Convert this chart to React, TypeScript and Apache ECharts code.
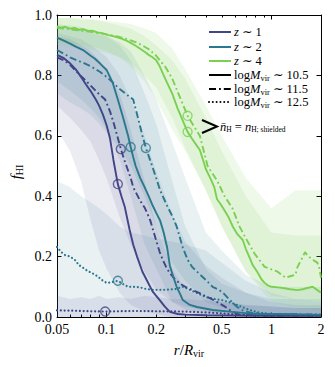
import React, { useEffect, useRef } from "react";
import * as echarts from "echarts";

const SERIF = "'Liberation Serif', 'DejaVu Serif', serif";
const COLOR_Z1 = "#414487";
const COLOR_Z2 = "#2a788e";
const COLOR_Z4 = "#7ad151";

// tick / label values
const X_LABELS = [0.05, 0.1, 0.2, 0.5, 1, 2];
const X_MAJOR_TICKS = [0.1, 1];
const X_MINOR_TICKS = [0.05, 0.06, 0.07, 0.08, 0.09, 0.2, 0.3, 0.4, 0.5, 0.6, 0.7, 0.8, 0.9, 2];

// ---- median profiles f_HI(r/Rvir) ----
const z1Solid: number[][] = [
  [0.05, 0.868], [0.055, 0.857], [0.06, 0.84], [0.065, 0.82], [0.07, 0.795], [0.075, 0.77], [0.08, 0.748],
  [0.086, 0.72], [0.09, 0.7], [0.095, 0.67], [0.1, 0.635], [0.105, 0.59], [0.11, 0.52], [0.117, 0.44],
  [0.123, 0.4], [0.129, 0.364], [0.138, 0.288], [0.145, 0.24], [0.153, 0.2], [0.165, 0.15], [0.176, 0.12],
  [0.19, 0.085], [0.21, 0.056], [0.225, 0.035], [0.242, 0.017], [0.27, 0.01], [0.3, 0.008], [0.4, 0.006],
  [0.6, 0.005], [1.0, 0.004], [2.0, 0.004],
];
const z1DashDot: number[][] = [
  [0.05, 0.86], [0.055, 0.85], [0.06, 0.835], [0.065, 0.815], [0.07, 0.797], [0.075, 0.782], [0.08, 0.766],
  [0.09, 0.738], [0.098, 0.72], [0.105, 0.68], [0.11, 0.645], [0.116, 0.6], [0.122, 0.556], [0.128, 0.52],
  [0.133, 0.495], [0.14, 0.46], [0.145, 0.43], [0.159, 0.387], [0.171, 0.36], [0.184, 0.32], [0.202, 0.245],
  [0.21, 0.215], [0.219, 0.19], [0.23, 0.165], [0.242, 0.145], [0.26, 0.125], [0.28, 0.11], [0.3, 0.1],
  [0.33, 0.09], [0.37, 0.078], [0.41, 0.066], [0.45, 0.055], [0.48, 0.046], [0.52, 0.035], [0.56, 0.023],
  [0.6, 0.014], [0.64, 0.008], [0.8, 0.005], [1.0, 0.004], [2.0, 0.004],
];
const z1Dotted: number[][] = [
  [0.05, 0.022], [0.06, 0.021], [0.07, 0.02], [0.08, 0.019], [0.098, 0.018], [0.12, 0.019], [0.15, 0.02],
  [0.2, 0.019], [0.3, 0.018], [0.4, 0.015], [0.5, 0.012], [0.6, 0.009], [0.75, 0.006], [1.0, 0.005],
  [1.5, 0.005], [2.0, 0.005],
];
const z2Solid: number[][] = [
  [0.05, 0.925], [0.055, 0.915], [0.06, 0.905], [0.065, 0.895], [0.072, 0.884], [0.08, 0.865], [0.085, 0.855],
  [0.091, 0.84], [0.1, 0.818], [0.109, 0.775], [0.117, 0.72], [0.126, 0.66], [0.135, 0.6], [0.14, 0.563],
  [0.145, 0.53], [0.15, 0.5], [0.16, 0.46], [0.17, 0.43], [0.18, 0.4], [0.19, 0.37], [0.2, 0.345],
  [0.211, 0.32], [0.222, 0.28], [0.233, 0.23], [0.242, 0.17], [0.255, 0.13], [0.266, 0.1], [0.28, 0.075],
  [0.29, 0.056], [0.32, 0.04], [0.354, 0.033], [0.44, 0.023], [0.58, 0.017], [0.7, 0.013], [0.85, 0.01],
  [1.0, 0.01], [1.3, 0.009], [1.6, 0.008], [2.0, 0.007],
];
const z2DashDot: number[][] = [
  [0.05, 0.884], [0.055, 0.872], [0.06, 0.86], [0.066, 0.85], [0.072, 0.842], [0.08, 0.83], [0.091, 0.812],
  [0.1, 0.795], [0.11, 0.775], [0.12, 0.755], [0.13, 0.74], [0.145, 0.72], [0.155, 0.66], [0.165, 0.6],
  [0.173, 0.56], [0.189, 0.5], [0.2, 0.46], [0.211, 0.42], [0.233, 0.368], [0.25, 0.335], [0.266, 0.3],
  [0.29, 0.23], [0.31, 0.19], [0.33, 0.166], [0.37, 0.14], [0.405, 0.12], [0.44, 0.1], [0.48, 0.09],
  [0.52, 0.075], [0.56, 0.056], [0.62, 0.033], [0.68, 0.02], [0.74, 0.015], [0.85, 0.011], [1.0, 0.01],
  [1.4, 0.009], [2.0, 0.008],
];
const z2Dotted: number[][] = [
  [0.05, 0.232], [0.053, 0.215], [0.056, 0.205], [0.06, 0.2], [0.064, 0.19], [0.068, 0.172], [0.072, 0.163],
  [0.077, 0.152], [0.082, 0.145], [0.088, 0.135], [0.094, 0.122], [0.1, 0.113], [0.107, 0.115], [0.117, 0.12],
  [0.125, 0.11], [0.135, 0.1], [0.145, 0.1], [0.16, 0.098], [0.175, 0.092], [0.19, 0.09], [0.21, 0.09],
  [0.23, 0.09], [0.26, 0.092], [0.29, 0.1], [0.32, 0.09], [0.35, 0.08], [0.4, 0.066], [0.45, 0.06],
  [0.5, 0.056], [0.58, 0.046], [0.65, 0.035], [0.74, 0.023], [0.85, 0.014], [1.0, 0.01], [1.3, 0.009],
  [1.6, 0.008], [2.0, 0.008],
];
const z4Solid: number[][] = [
  [0.05, 0.962], [0.053, 0.958], [0.056, 0.961], [0.06, 0.955], [0.064, 0.957], [0.068, 0.951], [0.072, 0.953],
  [0.077, 0.947], [0.082, 0.948], [0.088, 0.942], [0.094, 0.94], [0.1, 0.935], [0.107, 0.931], [0.115, 0.927],
  [0.123, 0.922], [0.132, 0.915], [0.141, 0.907], [0.15, 0.898], [0.16, 0.888], [0.17, 0.878], [0.18, 0.868],
  [0.19, 0.86], [0.2, 0.85], [0.21, 0.83], [0.22, 0.805], [0.233, 0.775], [0.25, 0.74], [0.27, 0.69],
  [0.29, 0.65], [0.31, 0.613], [0.33, 0.59], [0.35, 0.57], [0.368, 0.553], [0.385, 0.52], [0.4, 0.49],
  [0.43, 0.455], [0.45, 0.43], [0.468, 0.39], [0.49, 0.375], [0.51, 0.36], [0.55, 0.33], [0.585, 0.298],
  [0.62, 0.275], [0.67, 0.255], [0.7, 0.225], [0.74, 0.195], [0.77, 0.172], [0.82, 0.15], [0.87, 0.125],
  [0.91, 0.113], [0.95, 0.105], [1.0, 0.1], [1.1, 0.098], [1.2, 0.095], [1.3, 0.092], [1.44, 0.089],
  [1.55, 0.092], [1.65, 0.096], [1.78, 0.1], [1.9, 0.089], [2.0, 0.08],
];
const z4DashDot: number[][] = [
  [0.05, 0.958], [0.055, 0.955], [0.06, 0.953], [0.065, 0.95], [0.07, 0.948], [0.08, 0.944], [0.09, 0.94],
  [0.1, 0.936], [0.11, 0.932], [0.12, 0.927], [0.13, 0.922], [0.14, 0.916], [0.15, 0.91], [0.16, 0.903],
  [0.17, 0.895], [0.18, 0.887], [0.19, 0.876], [0.2, 0.865], [0.21, 0.85], [0.226, 0.83], [0.25, 0.79],
  [0.27, 0.745], [0.29, 0.705], [0.31, 0.666], [0.34, 0.63], [0.368, 0.6], [0.41, 0.5], [0.47, 0.45],
  [0.52, 0.4], [0.58, 0.36], [0.64, 0.3], [0.7, 0.26], [0.79, 0.21], [0.91, 0.166], [1.0, 0.158],
  [1.09, 0.15], [1.22, 0.13], [1.3, 0.135], [1.4, 0.14], [1.44, 0.166], [1.52, 0.19], [1.6, 0.215],
  [1.68, 0.2], [1.78, 0.19], [1.9, 0.18], [1.96, 0.16], [2.0, 0.13],
];

// circles: radius where mean density equals the self-shielding density
const z1Shielded: number[][] = [[0.117, 0.44], [0.122, 0.556], [0.098, 0.018]];
const z2Shielded: number[][] = [[0.14, 0.563], [0.173, 0.56], [0.117, 0.12]];
const z4Shielded: number[][] = [[0.31, 0.613], [0.31, 0.666]];

// ---- scatter bands (lower / upper percentiles) on a shared radius grid ----
const BAND_R = [0.05, 0.06, 0.07, 0.08, 0.09, 0.1, 0.12, 0.14, 0.17, 0.2, 0.25, 0.3, 0.4, 0.5, 0.7, 1.0, 1.4, 2.0];
const z1SolidLo = [0.62, 0.55, 0.45, 0.32, 0.22, 0.16, 0.08, 0.04, 0.02, 0.01, 0, 0, 0, 0, 0, 0, 0, 0];
const z1SolidHi = [0.93, 0.92, 0.9, 0.88, 0.85, 0.82, 0.74, 0.62, 0.45, 0.3, 0.16, 0.09, 0.06, 0.05, 0.04, 0.035, 0.03, 0.03];
const z1DashLo = [0.7, 0.66, 0.62, 0.58, 0.52, 0.46, 0.33, 0.24, 0.15, 0.09, 0.05, 0.035, 0.02, 0.01, 0, 0, 0, 0];
const z1DashHi = [0.94, 0.93, 0.92, 0.9, 0.88, 0.86, 0.8, 0.72, 0.6, 0.48, 0.34, 0.25, 0.17, 0.13, 0.08, 0.05, 0.04, 0.04];
const z1DotLo = [0, 0, 0, 0, 0, 0, 0, 0, 0, 0, 0, 0, 0, 0, 0, 0, 0, 0];
const z1DotHi = [0.07, 0.06, 0.065, 0.06, 0.07, 0.06, 0.065, 0.06, 0.07, 0.065, 0.06, 0.06, 0.055, 0.05, 0.04, 0.035, 0.03, 0.03];
const z2SolidLo = [0.78, 0.75, 0.72, 0.69, 0.66, 0.62, 0.52, 0.4, 0.24, 0.16, 0.05, 0.025, 0.01, 0.005, 0, 0, 0, 0];
const z2SolidHi = [0.97, 0.965, 0.96, 0.95, 0.94, 0.93, 0.9, 0.85, 0.74, 0.64, 0.45, 0.3, 0.16, 0.11, 0.08, 0.06, 0.06, 0.06];
const z2DashLo = [0.74, 0.71, 0.69, 0.67, 0.64, 0.61, 0.56, 0.5, 0.4, 0.3, 0.18, 0.12, 0.05, 0.03, 0.01, 0, 0, 0];
const z2DashHi = [0.96, 0.955, 0.95, 0.94, 0.935, 0.93, 0.91, 0.88, 0.8, 0.72, 0.58, 0.46, 0.28, 0.22, 0.14, 0.1, 0.1, 0.1];
const z2DotLo = [0, 0, 0, 0, 0, 0, 0, 0, 0, 0, 0, 0, 0, 0, 0, 0, 0, 0];
const z2DotHi = [0.45, 0.43, 0.4, 0.38, 0.36, 0.34, 0.3, 0.28, 0.27, 0.26, 0.25, 0.24, 0.22, 0.18, 0.12, 0.08, 0.06, 0.05];
const z4SolidLo = [0.91, 0.905, 0.9, 0.895, 0.89, 0.88, 0.86, 0.83, 0.78, 0.72, 0.62, 0.55, 0.42, 0.3, 0.15, 0.05, 0.03, 0.02];
const z4SolidHi = [0.99, 0.99, 0.985, 0.985, 0.98, 0.975, 0.965, 0.955, 0.93, 0.9, 0.85, 0.79, 0.66, 0.55, 0.4, 0.28, 0.27, 0.27];
const z4DashLo = [0.9, 0.895, 0.89, 0.885, 0.88, 0.875, 0.86, 0.84, 0.8, 0.76, 0.66, 0.56, 0.42, 0.3, 0.15, 0.07, 0.06, 0.05];
const z4DashHi = [0.99, 0.99, 0.99, 0.985, 0.985, 0.98, 0.975, 0.97, 0.955, 0.94, 0.89, 0.82, 0.7, 0.6, 0.46, 0.36, 0.42, 0.42];

const GRID = { left: 57, top: 15, width: 264, height: 302 };
const DASHDOT = [7, 3, 1.8, 3];
const DOTTED = [0.01, 3.8];

function fmtX(v: number) {
  return String(Number(Number(v).toPrecision(6)));
}

function band(lo: number[], hi: number[], color: string, opacity: number) {
  return {
    type: "custom",
    xAxisIndex: 0,
    yAxisIndex: 0,
    silent: true,
    clip: true,
    z: 1,
    data: [[BAND_R[0], lo[0]]],
    encode: { x: 0, y: 1 },
    renderItem: (_params: any, api: any) => {
      const top = BAND_R.map((r, i) => api.coord([r, hi[i]]));
      const bottom = BAND_R.map((r, i) => api.coord([r, lo[i]])).reverse();
      return {
        type: "polygon",
        shape: { points: top.concat(bottom) },
        style: { fill: color, opacity, stroke: null },
      };
    },
  };
}

function line(data: number[][], color: string, type: any, width = 1.9, cap = "butt") {
  return {
    type: "line",
    xAxisIndex: 0,
    yAxisIndex: 0,
    data,
    symbol: "none",
    showSymbol: false,
    clip: true,
    z: 3,
    lineStyle: { color, width, type, cap },
    silent: true,
  };
}

function circles(data: number[][], color: string) {
  return {
    type: "scatter",
    xAxisIndex: 0,
    yAxisIndex: 0,
    data,
    symbol: "circle",
    symbolSize: 9,
    z: 4,
    itemStyle: { color: "rgba(0,0,0,0)", borderColor: color, borderWidth: 1.4 },
    silent: true,
  };
}

const SUB = { fontFamily: SERIF, fontSize: 8.5, padding: [5, 0, 0, 0], fill: "#000" };
const rich = {
  i: { fontFamily: SERIF, fontStyle: "italic", fontSize: 12.5, fill: "#000" },
  n: { fontFamily: SERIF, fontSize: 12.5, fill: "#000" },
  s: SUB,
};
const richBig = {
  i: { fontFamily: SERIF, fontStyle: "italic", fontSize: 15, fill: "#000" },
  n: { fontFamily: SERIF, fontSize: 15, fill: "#000" },
  s: { fontFamily: SERIF, fontSize: 10, padding: [6, 0, 0, 0], fill: "#000" },
};

function legendRow(y: number, color: string, dash: any, text: string, cap = "butt") {
  return [
    {
      type: "line",
      shape: { x1: 209, y1: y, x2: 231, y2: y },
      style: { stroke: color, lineWidth: 2, lineDash: dash, lineCap: cap },
      z: 10,
    },
    {
      type: "text",
      x: 234,
      y,
      z: 10,
      style: { text, rich, fontFamily: SERIF, fontSize: 12.5, fill: "#000", verticalAlign: "middle", align: "left" },
    },
  ];
}

export default function App() {
  const ref = useRef<HTMLDivElement>(null);
  useEffect(() => {
    const chart = echarts.init(ref.current!, null, { renderer: "svg" });
    const axisLineStyle = { color: "#000", width: 1 };
    const xCommon = {
      type: "log",
      logBase: 10,
      min: 0.05,
      max: 2,
      splitLine: { show: false },
      axisLine: { show: true, onZero: false, lineStyle: axisLineStyle },
    };
    const yCommon = {
      type: "value",
      min: 0,
      max: 1,
      interval: 0.2,
      splitLine: { show: false },
      axisLine: { show: true, onZero: false, lineStyle: axisLineStyle },
      axisTick: { show: true, inside: true, length: 4.5, lineStyle: axisLineStyle },
    };
    const option: any = {
      animation: false,
      backgroundColor: "#fff",
      grid: [
        { ...GRID, containLabel: false, outerBoundsMode: "none" },
        { ...GRID, containLabel: false, outerBoundsMode: "none" },
      ],
      xAxis: [
        {
          ...xCommon,
          gridIndex: 0,
          position: "bottom",
          axisTick: { show: true, inside: true, length: 4.5, customValues: X_MAJOR_TICKS, lineStyle: axisLineStyle },
          axisLabel: {
            show: true,
            customValues: X_LABELS,
            formatter: (v: number) => fmtX(v),
            fontFamily: SERIF,
            fontSize: 14,
            color: "#000",
            margin: 5,
          },
        },
        {
          ...xCommon,
          gridIndex: 0,
          position: "top",
          axisTick: { show: true, inside: true, length: 4.5, customValues: X_MAJOR_TICKS, lineStyle: axisLineStyle },
          axisLabel: { show: false },
        },
        {
          ...xCommon,
          gridIndex: 1,
          position: "bottom",
          axisLine: { show: false },
          axisTick: { show: true, inside: true, length: 2.5, customValues: X_MINOR_TICKS, lineStyle: axisLineStyle },
          axisLabel: { show: false },
        },
        {
          ...xCommon,
          gridIndex: 1,
          position: "top",
          axisLine: { show: false },
          axisTick: { show: true, inside: true, length: 2.5, customValues: X_MINOR_TICKS, lineStyle: axisLineStyle },
          axisLabel: { show: false },
        },
      ],
      yAxis: [
        {
          ...yCommon,
          gridIndex: 0,
          position: "left",
          axisLabel: {
            show: true,
            formatter: (v: number) => v.toFixed(1),
            fontFamily: SERIF,
            fontSize: 14,
            color: "#000",
            margin: 5,
          },
        },
        { ...yCommon, gridIndex: 0, position: "right", axisLabel: { show: false } },
        { ...yCommon, gridIndex: 1, show: false },
      ],
      series: [
        band(z2DotLo, z2DotHi, COLOR_Z2, 0.1),
        band(z1DotLo, z1DotHi, COLOR_Z1, 0.1),
        band(z1SolidLo, z1SolidHi, COLOR_Z1, 0.1),
        band(z1DashLo, z1DashHi, COLOR_Z1, 0.1),
        band(z2SolidLo, z2SolidHi, COLOR_Z2, 0.1),
        band(z2DashLo, z2DashHi, COLOR_Z2, 0.1),
        band(z4SolidLo, z4SolidHi, COLOR_Z4, 0.12),
        band(z4DashLo, z4DashHi, COLOR_Z4, 0.12),
        line(z1Dotted, COLOR_Z1, DOTTED, 2.2, "round"),
        line(z2Dotted, COLOR_Z2, DOTTED, 2.2, "round"),
        line(z1DashDot, COLOR_Z1, DASHDOT),
        line(z2DashDot, COLOR_Z2, DASHDOT),
        line(z4DashDot, COLOR_Z4, DASHDOT),
        line(z1Solid, COLOR_Z1, "solid"),
        line(z2Solid, COLOR_Z2, "solid"),
        line(z4Solid, COLOR_Z4, "solid"),
        circles(z1Shielded, COLOR_Z1),
        circles(z2Shielded, COLOR_Z2),
        circles(z4Shielded, COLOR_Z4),
      ],
      graphic: [
        ...legendRow(32, COLOR_Z1, null, "{i|z} ∼ 1"),
        ...legendRow(47, COLOR_Z2, null, "{i|z} ∼ 2"),
        ...legendRow(61, COLOR_Z4, null, "{i|z} ∼ 4"),
        ...legendRow(75, "#000", null, "{n|log}{i|M}{s|vir} ∼ 10.5"),
        ...legendRow(89, "#000", DASHDOT, "{n|log}{i|M}{s|vir} ∼ 11.5"),
        ...legendRow(102, "#000", DOTTED, "{n|log}{i|M}{s|vir} ∼ 12.5", "round"),
        {
          type: "polyline",
          shape: { points: [[202, 120], [217, 126.5], [202, 133]] },
          style: { stroke: "#000", lineWidth: 2, fill: null },
          z: 10,
        },
        {
          type: "text",
          x: 220,
          y: 127,
          z: 10,
          style: {
            text: "{i|n̄}{s|H} = {i|n}{s|H; shielded}",
            rich: { ...rich, s: { ...SUB, fontSize: 7.5 } },
            fontFamily: SERIF,
            fontSize: 12.5,
            fill: "#000",
            verticalAlign: "middle",
          },
        },
        {
          type: "text",
          x: 16,
          y: 172,
          rotation: Math.PI / 2,
          z: 10,
          style: {
            text: "{i|f}{s|HI}",
            rich: richBig,
            fontFamily: SERIF,
            fontSize: 15,
            fill: "#000",
            align: "center",
            verticalAlign: "middle",
          },
        },
        {
          type: "text",
          x: 189,
          y: 350,
          z: 10,
          style: {
            text: "{i|r}{n|/}{i|R}{s|vir}",
            rich: richBig,
            fontFamily: SERIF,
            fontSize: 15,
            fill: "#000",
            align: "center",
            verticalAlign: "middle",
          },
        },
      ],
    };
    chart.setOption(option);
    return () => chart.dispose();
  }, []);
  return <div ref={ref} style={{ position: "fixed", left: 0, top: 0, width: 335, height: 367 }} />;
}
